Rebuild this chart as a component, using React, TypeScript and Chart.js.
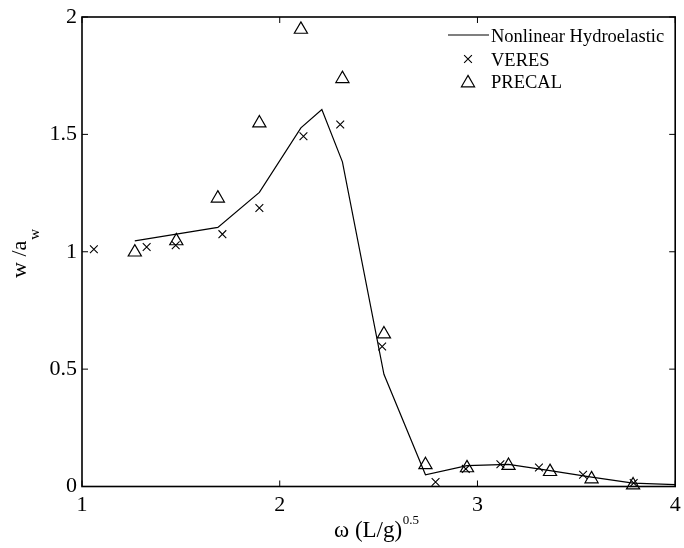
import { useEffect, useRef } from 'react';
import { Chart, registerables } from 'chart.js';
import { drawPoint } from 'chart.js/helpers';

Chart.register(...registerables);

// Nondimensional frequency ω (L/g)^0.5 and response w/a_w
const modelOmega = [1.267, 1.477, 1.687, 1.897, 2.107, 2.213, 2.317, 2.527, 2.737, 2.947, 3.157, 3.367, 3.577, 3.787, 4.0];
const modelResponse = [1.046, 1.075, 1.104, 1.253, 1.528, 1.606, 1.383, 0.478, 0.05, 0.089, 0.094, 0.068, 0.04, 0.014, 0.008];

const veresOmega = [1.06, 1.327, 1.474, 1.71, 1.897, 2.12, 2.306, 2.518, 2.788, 2.941, 3.116, 3.311, 3.534, 3.79];
const veresResponse = [1.011, 1.02, 1.028, 1.075, 1.186, 1.492, 1.542, 0.596, 0.019, 0.075, 0.095, 0.081, 0.05, 0.015];

const precalOmega = [1.267, 1.477, 1.687, 1.897, 2.107, 2.317, 2.527, 2.737, 2.947, 3.157, 3.367, 3.577, 3.787];
const precalResponse = [0.998, 1.046, 1.228, 1.548, 1.947, 1.737, 0.649, 0.092, 0.079, 0.089, 0.063, 0.032, 0.006];

const xTicks = [1, 2, 3, 4];
const yTicks = [0, 0.5, 1, 1.5, 2];

const seriesNames = ['Nonlinear Hydroelastic', 'VERES', 'PRECAL'];

const SERIF = '"Liberation Serif", "Times New Roman", serif';
const INK = '#000';

const toPoints = (xs: number[], ys: number[]) => xs.map((x, i) => ({ x, y: ys[i] }));

// Box, inward tick marks, axis titles and the in-plot legend
const decorations = {
  id: 'decorations',
  afterDraw(chart: any) {
    const { ctx, chartArea: a, scales } = chart;
    const xs = scales.x;
    const ys = scales.y;
    const tick = 6;
    ctx.save();
    ctx.strokeStyle = INK;
    ctx.lineWidth = 1;
    ctx.beginPath();
    for (const v of xTicks) {
      const px = xs.getPixelForValue(v);
      ctx.moveTo(px, a.bottom);
      ctx.lineTo(px, a.bottom - tick);
      ctx.moveTo(px, a.top);
      ctx.lineTo(px, a.top + tick);
    }
    for (const v of yTicks) {
      const py = ys.getPixelForValue(v);
      ctx.moveTo(a.left, py);
      ctx.lineTo(a.left + tick, py);
      ctx.moveTo(a.right, py);
      ctx.lineTo(a.right - tick, py);
    }
    ctx.stroke();
    ctx.lineWidth = 1.6;
    ctx.strokeRect(a.left, a.top, a.right - a.left, a.bottom - a.top);

    // x-axis title with superscript
    ctx.fillStyle = INK;
    ctx.textBaseline = 'alphabetic';
    ctx.textAlign = 'left';
    ctx.font = `23px ${SERIF}`;
    const xMain = 'ω (L/g)';
    const xStart = 334;
    ctx.fillText(xMain, xStart, 537);
    const wMain = ctx.measureText(xMain).width;
    ctx.font = `13px ${SERIF}`;
    ctx.fillText('0.5', xStart + wMain + 0.5, 524);

    // y-axis title with subscript, rotated
    ctx.save();
    ctx.translate(26, 278);
    ctx.rotate(-Math.PI / 2);
    ctx.font = `22px ${SERIF}`;
    const yMain = 'w /a';
    ctx.fillText(yMain, 0, 0);
    const wy = ctx.measureText(yMain).width;
    ctx.font = `15px ${SERIF}`;
    ctx.fillText('w', wy + 1, 13);
    ctx.restore();

    // legend
    const rows = [35, 59, 81];
    ctx.font = `18.5px ${SERIF}`;
    ctx.textBaseline = 'middle';
    chart.data.datasets.forEach((ds: any, i: number) => {
      const y = rows[i];
      if (ds.showLine) {
        ctx.strokeStyle = ds.borderColor;
        ctx.lineWidth = ds.borderWidth;
        ctx.beginPath();
        ctx.moveTo(448, y);
        ctx.lineTo(489, y);
        ctx.stroke();
      } else {
        ctx.strokeStyle = ds.pointBorderColor;
        ctx.fillStyle = 'rgba(0,0,0,0)';
        ctx.lineWidth = ds.pointBorderWidth;
        drawPoint(ctx, { pointStyle: ds.pointStyle, radius: ds.pointRadius, rotation: 0, borderWidth: ds.pointBorderWidth }, 468, y + (ds.pointStyle === 'triangle' ? 2 : 0));
      }
      ctx.fillStyle = INK;
      ctx.fillText(ds.label, 491, y + 2);
    });
    ctx.restore();
  },
};

export default function App() {
  const ref = useRef<HTMLCanvasElement>(null);

  useEffect(() => {
    if (!ref.current) return;
    const chart = new Chart(ref.current, {
      type: 'scatter',
      data: {
        datasets: [
          {
            label: seriesNames[0],
            data: toPoints(modelOmega, modelResponse),
            showLine: true,
            borderColor: INK,
            borderWidth: 1.2,
            pointRadius: 0,
            tension: 0,
            fill: false,
          },
          {
            label: seriesNames[1],
            data: toPoints(veresOmega, veresResponse),
            showLine: false,
            pointStyle: 'crossRot',
            pointRadius: 5.5,
            pointBorderColor: INK,
            pointBorderWidth: 1.1,
            pointBackgroundColor: 'rgba(0,0,0,0)',
            clip: 10,
          },
          {
            label: seriesNames[2],
            data: toPoints(precalOmega, precalResponse),
            showLine: false,
            pointStyle: 'triangle',
            pointRadius: 7.6,
            pointBorderColor: INK,
            pointBorderWidth: 1.2,
            pointBackgroundColor: 'rgba(0,0,0,0)',
            clip: 10,
          },
        ] as any,
      },
      options: {
        animation: false,
        responsive: true,
        maintainAspectRatio: false,
        layout: { padding: { top: 17, right: 7, left: 0, bottom: 0 } },
        plugins: { legend: { display: false }, tooltip: { enabled: false } },
        events: [],
        scales: {
          x: {
            type: 'linear',
            min: 1,
            max: 4,
            afterFit: (s: any) => {
              s.height = 61.5;
              s.paddingLeft = 0;
              s.paddingRight = 0;
            },
            afterBuildTicks: (s: any) => { s.ticks = xTicks.map((v) => ({ value: v })); },
            grid: { display: false, drawTicks: false },
            border: { display: false },
            ticks: { padding: 6, color: INK, font: { family: SERIF, size: 22 }, maxRotation: 0, callback: (v: any) => String(v) },
          },
          y: {
            type: 'linear',
            min: 0,
            max: 2,
            afterFit: (s: any) => {
              s.width = 82;
              s.paddingTop = 0;
              s.paddingBottom = 0;
            },
            afterBuildTicks: (s: any) => { s.ticks = yTicks.map((v) => ({ value: v })); },
            grid: { display: false, drawTicks: false },
            border: { display: false },
            ticks: { padding: 5, color: INK, font: { family: SERIF, size: 22 }, callback: (v: any) => String(v) },
          },
        },
      },
      plugins: [decorations],
    });
    return () => chart.destroy();
  }, []);

  return (
    <div style={{ position: 'fixed', left: 0, top: 0, width: 684, height: 548, background: '#fff' }}>
      <canvas ref={ref} />
    </div>
  );
}
